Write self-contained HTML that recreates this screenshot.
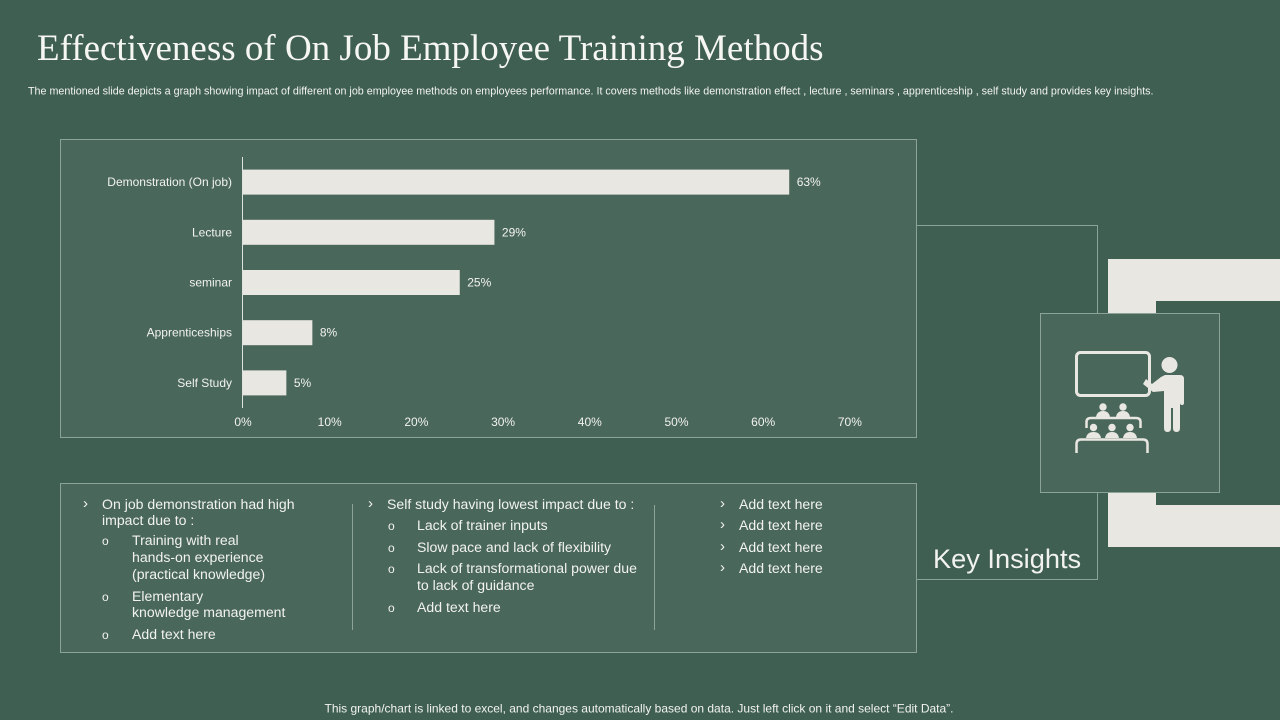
<!DOCTYPE html>
<html lang="en">
<head>
<meta charset="utf-8">
<title>Effectiveness of On Job Employee Training Methods</title>
<style>
html,body{margin:0;padding:0;width:1280px;height:720px;overflow:hidden;background:#3f5f53}
svg{display:block;position:absolute;left:0;top:0}
text{font-family:"Liberation Sans",Arial,sans-serif;fill:#f2f3ee}
.title{font-family:"Liberation Serif","Times New Roman",serif;font-size:37px;fill:#f6f6f2}
.sub{font-size:10.74px}
.foot{font-size:12px}
.li{font-size:14.08px}
.bul{font-size:12px}
.chev{font-size:15px}
.ax{font-size:12px}
.panel{fill:#4a675c;stroke:#8ba398;stroke-width:1}
.rule{fill:none;stroke:#8ba398;stroke-width:1}
.ic{fill:#e9e7e2}
.ics{fill:none;stroke:#e9e7e2;stroke-width:3}
</style>
</head>
<body>
<svg id="slide-svg" width="1280" height="720" viewBox="0 0 1280 720" xmlns="http://www.w3.org/2000/svg">
  <rect x="0" y="0" width="1280" height="720" fill="#3f5f53"/>
  <text class="title" x="37" y="60">Effectiveness of On Job Employee Training Methods</text>
  <text class="sub" x="28" y="94.500">The mentioned  slide depicts a graph showing impact of different on job employee methods on employees performance. It covers methods like demonstration effect , lecture , seminars , apprenticeship , self study and provides key insights.</text>

  <rect class="panel" x="60.500" y="139.500" width="856" height="298"/>
  <g id="chart"></g>

  <rect class="panel" x="60.500" y="483.500" width="856" height="169"/>
  <line class="rule" x1="352.500" y1="504" x2="352.500" y2="630"/>
  <line class="rule" x1="654.500" y1="505" x2="654.500" y2="630"/>

  <g>
    <text class="chev" x="83" y="508">›</text>
    <text class="li" x="102" y="509">On job demonstration had high</text>
    <text class="li" x="102" y="525">impact due to :</text>
    <text class="bul" x="102" y="545">o</text>
    <text class="li" x="132" y="545">Training with real</text>
    <text class="li" x="132" y="562">hands-on experience</text>
    <text class="li" x="132" y="579">(practical knowledge)</text>
    <text class="bul" x="102" y="601">o</text>
    <text class="li" x="132" y="601">Elementary</text>
    <text class="li" x="132" y="617">knowledge management</text>
    <text class="bul" x="102" y="639">o</text>
    <text class="li" x="132" y="639">Add text here</text>
  </g>
  <g>
    <text class="chev" x="368" y="508">›</text>
    <text class="li" x="387" y="509">Self study having lowest impact due to :</text>
    <text class="bul" x="388" y="530">o</text>
    <text class="li" x="417" y="530">Lack of trainer inputs</text>
    <text class="bul" x="388" y="552">o</text>
    <text class="li" x="417" y="552">Slow pace and lack of flexibility</text>
    <text class="bul" x="388" y="573">o</text>
    <text class="li" x="417" y="573">Lack of transformational power due</text>
    <text class="li" x="417" y="590">to lack of guidance</text>
    <text class="bul" x="388" y="612">o</text>
    <text class="li" x="417" y="612">Add text here</text>
  </g>
  <g>
    <text class="chev" x="720" y="508">›</text>
    <text class="li" x="739" y="509">Add text here</text>
    <text class="chev" x="720" y="529">›</text>
    <text class="li" x="739" y="530">Add text here</text>
    <text class="chev" x="720" y="551">›</text>
    <text class="li" x="739" y="552">Add text here</text>
    <text class="chev" x="720" y="572">›</text>
    <text class="li" x="739" y="573">Add text here</text>
  </g>

  <path class="rule" d="M917 225.500H1097.500V313"/>
  <path class="rule" d="M1097.500 492V579.500H917"/>
  <path d="M1108 259H1280V301H1156V505H1280V547H1108Z" fill="#e9e7e2"/>
  <rect class="panel" x="1040.500" y="313.500" width="179" height="179"/>
  <g>
    <rect class="ics" x="1076.500" y="352.500" width="73" height="43" rx="4"/>
    <circle class="ic" cx="1169.500" cy="365" r="8"/>
    <path class="ic" d="M1165 375H1180Q1184 375 1184 379V403Q1184 405 1182 405Q1180 405 1180 403V428Q1180 432 1176.500 432Q1173 432 1173 428V408H1171V428Q1171 432 1167.500 432Q1164 432 1164 428V391L1153 392L1143 384L1146 379L1152 384L1161 377Z"/>
    <circle class="ic" cx="1103" cy="407" r="3.700"/>
    <circle class="ic" cx="1123" cy="407" r="3.700"/>
    <path class="ic" d="M1096 417Q1097 411 1103 411Q1109 411 1110 417ZM1116 417Q1117 411 1123 411Q1129 411 1130 417Z"/>
    <path d="M1086.500 428V422Q1086.500 418 1091 418H1136Q1140.500 418 1140.500 422V428" fill="none" stroke="#e9e7e2" stroke-width="2.500"/>
    <circle class="ic" cx="1093.500" cy="427.500" r="3.700"/>
    <circle class="ic" cx="1112" cy="427.500" r="3.700"/>
    <circle class="ic" cx="1130" cy="427.500" r="3.700"/>
    <path class="ic" d="M1086 438Q1087 432 1093.500 432Q1100 432 1101 438ZM1105 438Q1106 432 1112 432Q1118 432 1119 438ZM1123 438Q1124 432 1130 432Q1136 432 1137 438Z"/>
    <path d="M1076.500 453V444Q1076.500 439.500 1081 439.500H1143Q1147.500 439.500 1147.500 444V453" fill="none" stroke="#e9e7e2" stroke-width="2.500"/>
  </g>
  <text x="933" y="568" font-size="27.2">Key Insights</text>
  <text class="foot" x="324.500" y="712.500">This graph/chart is linked to excel,  and changes automatically based on data. Just left click on it and select “Edit Data”.</text>
</svg>
<script>
var categories = ["Demonstration (On job)", "Lecture", "seminar", "Apprenticeships", "Self Study"];
var seriesValues = [63, 29, 25, 8, 5];
var tickValues = [0, 10, 20, 30, 40, 50, 60, 70];

var svgNS = "http://www.w3.org/2000/svg";
var chart = document.getElementById("chart");
var plotLeft = 243, pxPerUnit = 8.67, plotTop = 157, plotBottom = 408, barHeight = 25;
function xScale(v) { return plotLeft + v * pxPerUnit; }
function yBand(i) { return plotTop + (plotBottom - plotTop) * (i + 0.5) / categories.length; }
function make(tag, attrs, txt) {
  var el = document.createElementNS(svgNS, tag);
  for (var k in attrs) { el.setAttribute(k, attrs[k]); }
  if (txt !== undefined) { el.textContent = txt; }
  chart.appendChild(el);
  return el;
}
categories.forEach(function (cat, i) {
  var y = yBand(i);
  var bar = make("rect", { x: xScale(0), y: y - barHeight / 2, width: xScale(seriesValues[i]) - xScale(0), height: barHeight, fill: "#e9e7e2" });
  
  
  var label = make("text", { x: 232, y: y + 4, "text-anchor": "end", "class": "ax" }, cat);
  
  
  var val = make("text", { x: xScale(seriesValues[i]) + 7.5, y: y + 4, "class": "ax" }, seriesValues[i] + "%");
  
  
});
var axisLine = make("line", { x1: 242.5, y1: plotTop, x2: 242.5, y2: plotBottom, stroke: "#dfe3dd", "stroke-width": 1 });


tickValues.forEach(function (t) {
  var tick = make("text", { x: xScale(t), y: 426, "text-anchor": "middle", "class": "ax" }, t + "%");
  
  
});
</script>
</body>
</html>
